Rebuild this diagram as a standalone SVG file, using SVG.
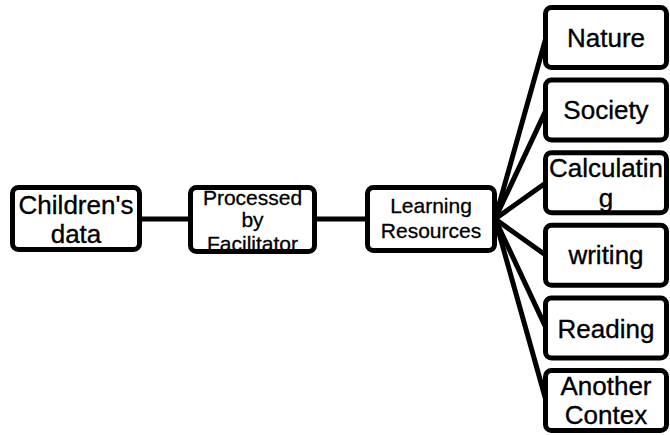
<svg xmlns="http://www.w3.org/2000/svg" width="670" height="435" viewBox="0 0 670 435">
  <style>
    .box { fill: #ffffff; stroke: #000000; stroke-width: 5; }
    .link { stroke: #000000; stroke-width: 5; fill: none; stroke-linecap: round; }
    .big { font-family: "Liberation Sans", Arial, sans-serif; font-size: 26px; fill: #000000; stroke: #000000; stroke-width: 0.35; text-anchor: middle; }
    .mid { font-family: "Liberation Sans", Arial, sans-serif; font-size: 21px; fill: #000000; stroke: #000000; stroke-width: 0.3; text-anchor: middle; }
  </style>
  <defs>
    <clipPath id="clipProc">
      <rect x="190.5" y="190" width="124" height="59"/>
    </clipPath>
  </defs>
  <rect width="670" height="435" fill="#ffffff"/>

  <g id="connectors">
    <line class="link" x1="140" y1="219" x2="190" y2="219"/>
    <line class="link" x1="314" y1="219" x2="367" y2="219"/>
    <line class="link" x1="495" y1="219" x2="546" y2="37.5"/>
    <line class="link" x1="495" y1="219" x2="546" y2="110.1"/>
    <line class="link" x1="495" y1="219" x2="546" y2="182.7"/>
    <line class="link" x1="495" y1="219" x2="546" y2="255.3"/>
    <line class="link" x1="495" y1="219" x2="546" y2="327.9"/>
    <line class="link" x1="495" y1="219" x2="546" y2="400.5"/>
  </g>

  <g id="node-children">
    <rect class="box" x="12.5" y="187.5" width="127" height="62" rx="6"/>
    <text class="big" x="76" y="213.5">Children's</text>
    <text class="big" x="76" y="243">data</text>
  </g>

  <g id="node-processed">
    <rect x="190.5" y="187.5" width="124" height="64" rx="6" fill="#ffffff"/>
    <g clip-path="url(#clipProc)">
      <text class="mid" x="252.5" y="205">Processed</text>
      <text class="mid" x="252.5" y="227">by</text>
      <text class="mid" x="252.5" y="250.5">Facilitator</text>
    </g>
    <rect x="190.5" y="187.5" width="124" height="64" rx="6" fill="none" stroke="#000000" stroke-width="5"/>
  </g>

  <g id="node-learning">
    <rect class="box" x="367.5" y="187.5" width="127" height="63" rx="6"/>
    <text class="mid" x="431" y="213">Learning</text>
    <text class="mid" x="431" y="238">Resources</text>
  </g>

  <g id="node-nature">
    <rect class="box" x="545.5" y="7.5" width="121" height="60" rx="6"/>
    <text class="big" x="606" y="47">Nature</text>
  </g>

  <g id="node-society">
    <rect class="box" x="545.5" y="80.1" width="121" height="60" rx="6"/>
    <text class="big" x="606" y="119">Society</text>
  </g>

  <g id="node-calculating">
    <rect class="box" x="545.5" y="152.7" width="121" height="60" rx="6"/>
    <text class="big" x="606" y="177">Calculatin</text>
    <text class="big" x="606" y="207">g</text>
  </g>

  <g id="node-writing">
    <rect class="box" x="545.5" y="225.3" width="121" height="60" rx="6"/>
    <text class="big" x="606" y="264">writing</text>
  </g>

  <g id="node-reading">
    <rect class="box" x="545.5" y="297.9" width="121" height="60" rx="6"/>
    <text class="big" x="606" y="338">Reading</text>
  </g>

  <g id="node-another">
    <rect class="box" x="545.5" y="370.5" width="121" height="60" rx="6"/>
    <text class="big" x="606" y="394.5">Another</text>
    <text class="big" x="606" y="424">Contex</text>
  </g>
</svg>
